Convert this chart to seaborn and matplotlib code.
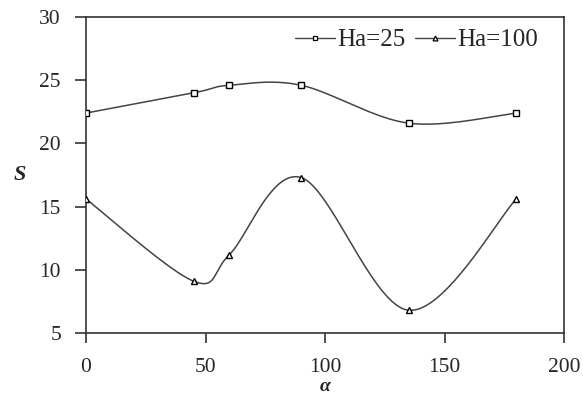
import numpy as np
import pandas as pd
import matplotlib
matplotlib.use("Agg")
import matplotlib.pyplot as plt
from matplotlib.lines import Line2D
import seaborn as sns

alpha = [0, 45, 60, 90, 135, 180]
s_ha25 = [22.4, 24.0, 24.6, 24.6, 21.6, 22.4]
s_ha100 = [15.6, 9.1, 11.2, 17.3, 6.8, 15.6]
labels = ["Ha=25", "Ha=100"]
x_ticks = [0, 50, 100, 150, 200]
y_ticks = [5, 10, 15, 20, 25, 30]


def smooth(xs, ys, n=40):
    # Bezier smoothing through the data points (Catmull-Rom style, like Excel's smoothed line)
    P = np.column_stack([xs, ys]).astype(float)
    Pe = np.vstack([P[0], P, P[-1]])
    out = []
    t = np.linspace(0, 1, n)[:, None]
    for i in range(len(P) - 1):
        p0, p3 = Pe[i + 1], Pe[i + 2]
        c1 = p0 + (Pe[i + 2] - Pe[i]) / 6.0
        c2 = p3 - (Pe[i + 3] - Pe[i + 1]) / 6.0
        seg = ((1 - t) ** 3) * p0 + 3 * ((1 - t) ** 2) * t * c1 + 3 * (1 - t) * t ** 2 * c2 + t ** 3 * p3
        out.append(seg if i == 0 else seg[1:])
    return np.vstack(out)


sns.set_theme(style="white")
plt.rcParams["font.family"] = ["Liberation Serif", "DejaVu Serif"]

fig = plt.figure(figsize=(5.83, 3.98), dpi=100)
ax = fig.add_axes([0.1475, 0.1633, 0.82, 0.794])

line_col = "#444444"
markers = ["s", "^"]
msizes = [4.5, 4.5]
for lab, ys, mk, ms in zip(labels, [s_ha25, s_ha100], markers, msizes):
    c = smooth(alpha, ys)
    df = pd.DataFrame({"x": c[:, 0], "y": c[:, 1]})
    sns.lineplot(data=df, x="x", y="y", sort=False, ax=ax, color=line_col, linewidth=1.1, estimator=None)
    ax.plot(alpha, ys, linestyle="none", marker=mk, markersize=ms, markerfacecolor="white",
            markeredgecolor="black", markeredgewidth=1.0, zorder=5)

ax.set_xlim(0, 200)
ax.set_ylim(5, 30)
ax.set_xticks(x_ticks)
ax.set_yticks(y_ticks)
ax.tick_params(axis="x", direction="out", length=7, width=1.2, color="#333333", pad=11, labelsize=15.5)
ax.tick_params(axis="y", direction="out", length=8, width=1.2, color="#333333", pad=10, labelsize=15.5)
ax.xaxis.set_ticks_position("bottom")
ax.yaxis.set_ticks_position("left")
for sp in ax.spines.values():
    sp.set_visible(True)
    sp.set_color("#333333")
    sp.set_linewidth(1.2)

ax.set_xlabel("α", fontsize=14, fontweight="bold", fontstyle="italic", va="center")
ax.xaxis.set_label_coords(0.5, -0.168)
ax.set_ylabel("S", fontsize=16, fontweight="bold", fontstyle="italic", rotation=0, labelpad=14, va="center")

handles = [Line2D([], [], color=line_col, linewidth=1.0, marker=m, markersize=3.5, markerfacecolor="white",
                  markeredgecolor="black", markeredgewidth=0.9) for m in markers]
ax.legend(handles, labels, loc="center right", bbox_to_anchor=(0.945, 0.927), ncol=2, frameon=False,
          fontsize=18, handlelength=1.6, handletextpad=0.1, columnspacing=0.35, borderpad=0, borderaxespad=0)

fig.savefig("out.png", dpi=100)
